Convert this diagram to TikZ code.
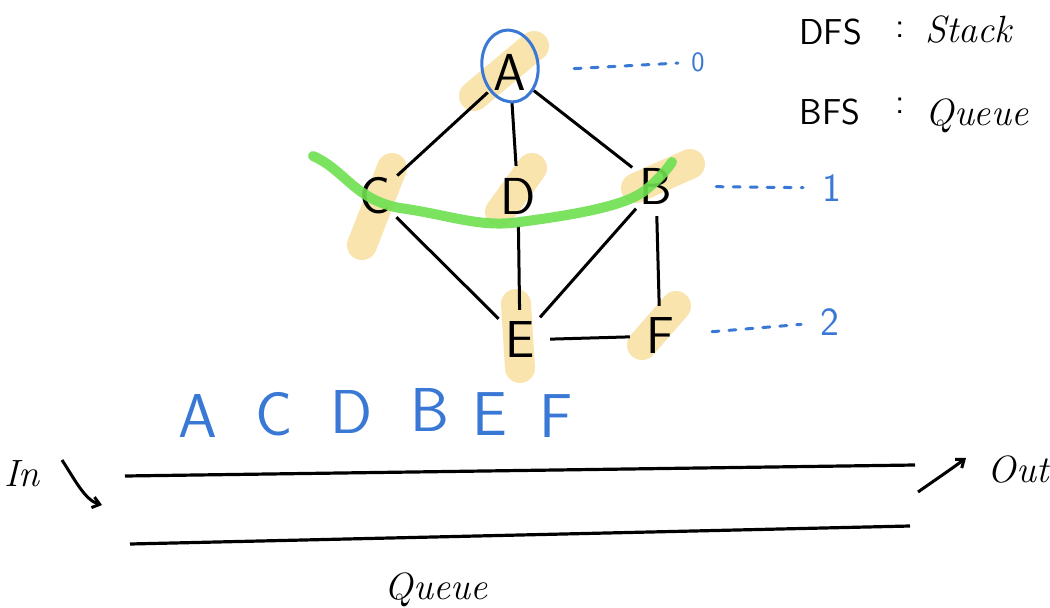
\documentclass[tikz,border=0pt]{standalone}
\usetikzlibrary{arrows.meta}
\definecolor{hl}{RGB}{248,224,160}
\definecolor{grn}{RGB}{110,224,80}
\definecolor{pen}{RGB}{58,120,214}
\begin{document}
\begin{tikzpicture}[x=1pt,y=-1pt,
  vert/.style={circle,minimum size=60pt,inner sep=0pt,font=\fontsize{52}{52}\selectfont\sffamily},
  edge/.style={line width=3pt,black},
  hilite/.style={line width=30pt,hl,line cap=round,opacity=0.85},
  lvl/.style={pen,line width=3pt,dash pattern=on 7pt off 10pt,line cap=round},
  lvltxt/.style={pen,font=\fontsize{40}{40}\selectfont\sffamily},
  seq/.style={pen,font=\fontsize{62}{62}\selectfont\sffamily},
  hand/.style={font=\fontsize{38}{38}\selectfont\itshape},
  lbl/.style={font=\fontsize{36}{36}\selectfont\sffamily},
  qline/.style={line width=3.2pt,black}]
\useasboundingbox (0,0) rectangle (1050,608);
\fill[white] (0,0) rectangle (1050,608);
% highlights
\draw[hilite] (474,96) -- (534,46);
\draw[hilite] (362,245) -- (392,168);
\draw[hilite] (500,212) -- (532,168);
\draw[hilite] (636,188) -- (690,164);
\draw[hilite] (516,304) -- (520,368);
\draw[hilite] (642,345) -- (676,306);
% vertices
\node[vert] (A) at (510,72) {A};
\node[vert] (C) at (375,196) {C};
\node[vert] (D) at (518,196) {D};
\node[vert] (B) at (656,186) {B};
\node[vert] (E) at (520,340) {E};
\node[vert] (F) at (660,336) {F};
% edges
\draw[edge] (A) -- (C);
\draw[edge] (A) -- (D);
\draw[edge] (A) -- (B);
\draw[edge] (C) -- (E);
\draw[edge] (D) -- (E);
\draw[edge] (B) -- (E);
\draw[edge] (B) -- (F);
\draw[edge] (E) -- (F);
% blue ellipse on A
\draw[pen,line width=3pt,rotate around={8:(510,66)}] (510,66) ellipse [x radius=28pt,y radius=36pt];
% green curve
\draw[grn,line width=10pt,line cap=round,opacity=0.9] (313,156) .. controls (345,170) and (355,200) .. (400,208) .. controls (450,215) and (480,228) .. (520,222) .. controls (580,214) and (630,205) .. (648,188) .. controls (660,178) and (668,168) .. (672,162);
% levels
\node[lvltxt,font=\fontsize{28}{28}\selectfont\sffamily] (l0) at (698,62) {0};
\node[lvltxt] (l1) at (832,188) {1};
\node[lvltxt] (l2) at (830,322) {2};
\draw[lvl,shorten <=34pt,shorten >=10pt] (A) -- (l0);
\draw[lvl,shorten <=30pt,shorten >=16pt] (B) -- (l1);
\draw[lvl,shorten <=22pt,shorten >=16pt] (F) -- (l2);
% DFS / BFS
\node[lbl,anchor=west] (dfs) at (796,32) {DFS};
\node[lbl] (c1) at (900,30) {:};
\node[hand,anchor=west] (stack) at (922,30) {Stack};
\node[lbl,anchor=west] (bfs) at (796,112) {BFS};
\node[lbl] (c2) at (900,106) {:};
\node[hand,anchor=west] (queue1) at (922,116) {Queue};
% sequence
\node[seq] (s1) at (198,416) {A};
\node[seq] (s2) at (274,414) {C};
\node[seq] (s3) at (352,412) {D};
\node[seq] (s4) at (430,410) {B};
\node[seq] (s5) at (490,414) {E};
\node[seq] (s6) at (556,416) {F};
% queue
\coordinate (q1a) at (125,476);
\coordinate (q1b) at (915,465);
\coordinate (q2a) at (130,544);
\coordinate (q2b) at (910,526);
\draw[qline] (q1a) -- (q1b);
\draw[qline] (q2a) -- (q2b);
\node[hand] (in) at (22,474) {In};
\node[hand] (out) at (1018,470) {Out};
\node[hand] (qlabel) at (436,590) {Queue};
\coordinate (ina) at (62,460);
\coordinate (inb) at (102,505);
\coordinate (outa) at (918,492);
\coordinate (outb) at (966,458);
\draw[line width=3pt,-{Straight Barb[length=7pt,width=11pt]}] (ina) .. controls (75,480) and (85,500) .. (inb);
\draw[line width=3pt,-{Straight Barb[length=7pt,width=11pt]}] (outa) .. controls (935,480) and (950,470) .. (outb);
\end{tikzpicture}
\end{document}
